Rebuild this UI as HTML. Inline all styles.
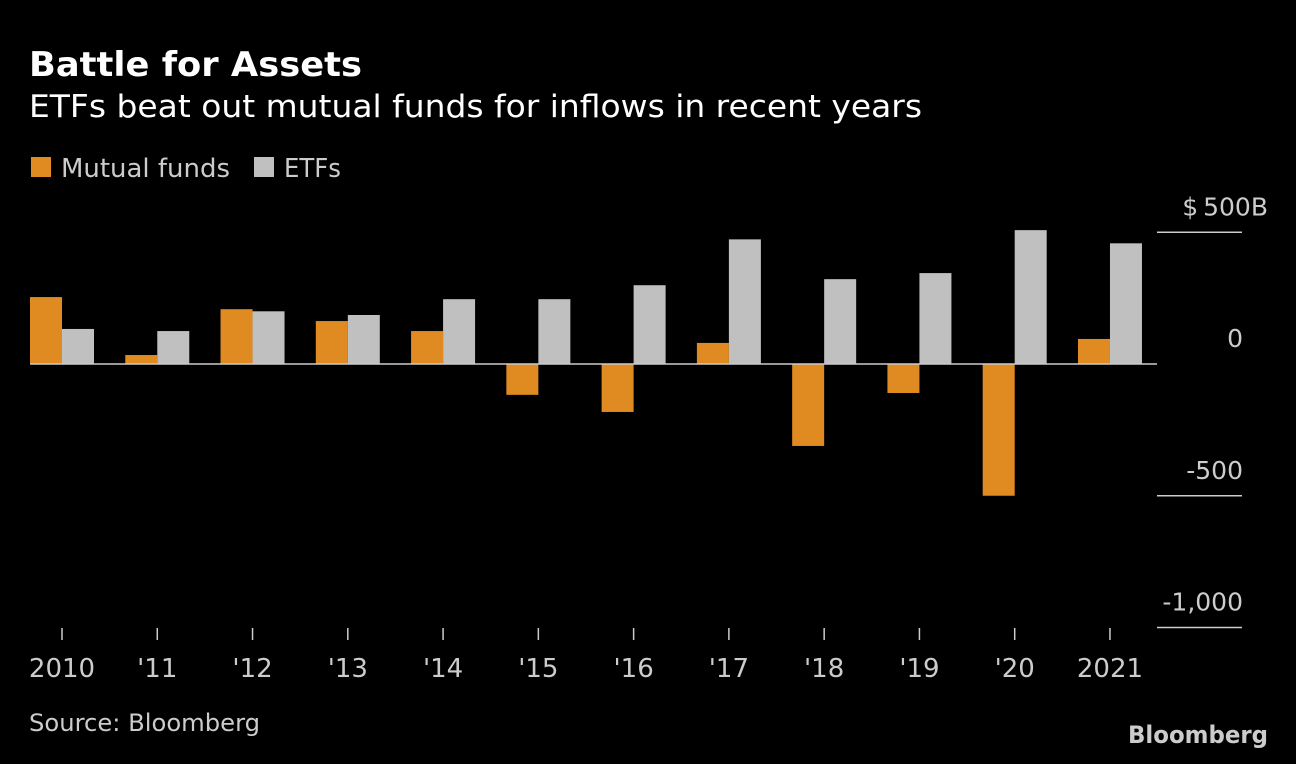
<!DOCTYPE html>
<html><head><meta charset="utf-8">
<style>
body{margin:0;background:#000;width:1296px;height:760px;overflow:hidden;font-family:"DejaVu Sans","Liberation Sans",sans-serif;color:#fff}
svg text{font-family:"DejaVu Sans","Liberation Sans",sans-serif}
</style></head><body>
<svg id="chart" width="1296" height="760" xmlns="http://www.w3.org/2000/svg">
<rect width="1296" height="760" fill="#000"/>
<text x="29" y="76" font-size="34" font-weight="bold" fill="#fff" textLength="333" lengthAdjust="spacingAndGlyphs">Battle for Assets</text>
<text x="29" y="117" font-size="31" fill="#fff" textLength="893" lengthAdjust="spacingAndGlyphs">ETFs beat out mutual funds for inflows in recent years</text>
<g>
<rect x="31" y="157" width="20" height="20" fill="#e08b22"/>
<text x="61" y="177" font-size="26" fill="#ccc" textLength="169" lengthAdjust="spacingAndGlyphs">Mutual funds</text>
<rect x="254" y="157" width="20" height="20" fill="#c0c0c0"/>
<text x="284" y="177" font-size="26" fill="#ccc" textLength="57" lengthAdjust="spacingAndGlyphs">ETFs</text>
</g>
<g id="grid"></g>
<g id="bars"></g>
<g id="xaxis"></g>
<text x="29" y="731" font-size="24" fill="#ccc" textLength="231" lengthAdjust="spacingAndGlyphs">Source: Bloomberg</text>
<text x="1268" y="743" font-size="24" font-weight="bold" fill="#ccc" text-anchor="end" textLength="140" lengthAdjust="spacingAndGlyphs">Bloomberg</text>
</svg>
<script>
const categories=["2010","'11","'12","'13","'14","'15","'16","'17","'18","'19","'20","2021"];
const mutualFunds=[254,34,208,163,125,-117,-182,80,-311,-110,-500,95];
const etfs=[133,125,200,186,246,246,299,473,322,345,508,458];
const yTickValues=[500,0,-500,-1000];
const yTickLabels=["$\u2009500B","0","-500","-1,000"];
const NS="http://www.w3.org/2000/svg";
function y(v){return 364-v*0.2635;}
function xc(i){return 62+i*95.27;}
function mk(tag,attrs,parent){const e=document.createElementNS(NS,tag);for(const k in attrs)e.setAttribute(k,attrs[k]);parent.appendChild(e);return e;}
const grid=document.getElementById('grid'),bars=document.getElementById('bars'),xa=document.getElementById('xaxis');
yTickValues.forEach((v,i)=>{
  if(v!==0){
    const l=mk('line',{x1:1157,x2:1242,y1:y(v),y2:y(v),stroke:'#ccc','stroke-width':1.5},grid);
    
    
  }
  const t=mk('text',{x:v===500?1268:1243,y:y(v)-17,'font-size':25,fill:'#ccc','text-anchor':'end'},grid);
  t.textContent=yTickLabels[i];
  
  
});
categories.forEach((c,i)=>{
  const cx=xc(i);
  const m=mutualFunds[i],e=etfs[i];
  const r1=mk('rect',{x:cx-32,y:Math.min(y(m),y(0)),width:32,height:Math.abs(y(m)-y(0)),fill:'#e08b22'},bars);
  
  
  const r2=mk('rect',{x:cx,y:Math.min(y(e),y(0)),width:32,height:Math.abs(y(e)-y(0)),fill:'#c0c0c0'},bars);
  
  
  const tk=mk('line',{x1:cx,x2:cx,y1:628,y2:640,stroke:'#ccc','stroke-width':1.5},xa);
  
  
  const t=mk('text',{x:cx,y:677,'font-size':26,fill:'#ccc','text-anchor':'middle'},xa);
  t.textContent=c;
  
  
});
const z=mk('line',{x1:30,x2:1157,y1:y(0),y2:y(0),stroke:'#ccc','stroke-width':1.5},bars);


</script>
</body></html>
